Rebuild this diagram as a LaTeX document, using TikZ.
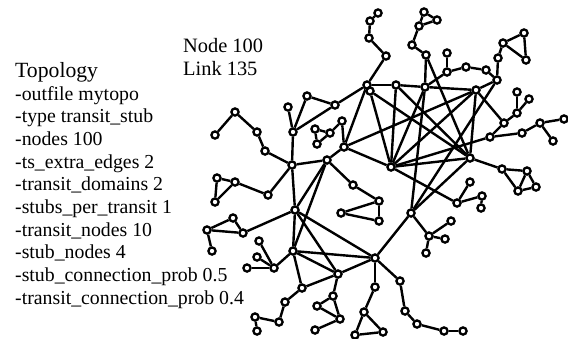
\documentclass[tikz,border=0pt]{standalone}
\usepackage{fontspec}
\setmainfont{Liberation Serif}
\begin{document}
\begin{tikzpicture}[x=1bp,y=-1bp,
  v/.style={circle,draw=black,fill=white,line width=2.3bp,inner sep=0pt,minimum size=7.2bp},
  e/.style={line width=2.4bp,black},
  lbl/.style={anchor=base west,inner sep=0pt,font=\fontsize{19.8bp}{22bp}\selectfont},
  big/.style={anchor=base west,inner sep=0pt,font=\fontsize{21.7bp}{24bp}\selectfont},
  cnt/.style={anchor=base west,inner sep=0pt,font=\fontsize{20.4bp}{24bp}\selectfont}]
\useasboundingbox (0,0) rectangle (568,338);

% ---------- generator parameters ----------
\node[big] (title) at (15,77) {Topology};
\foreach \t [count=\k from 0] in {-outfile mytopo,-type transit\_stub,-nodes 100,-ts\_extra\_edges 2,-transit\_domains 2,-stubs\_per\_transit 1,-transit\_nodes 10,-stub\_nodes 4,-stub\_connection\_prob 0.5,-transit\_connection\_prob 0.4}
  \node[lbl] (opt\k) at (15,100+22.7*\k) {\t};
\node[cnt] (nodecount) at (183,52) {Node 100};
\node[cnt] (linkcount) at (183,75) {Link 135};

% ---------- vertices ----------
\foreach \n/\x/\y in {
  a1/378/13, a2/370/21, a3/369/38, a4/386/56,
  b1/424/12, b2/437/20, b3/419/26, b4/412/45, X/426/55,
  c1/447/53, c2/447/72, c3/466/67, c4/486/70, Y/497/80,
  d1/498/58, d2/503/43, d3/524/33, d4/526/60,
  H1/367/85, H1b/370/91, T1/396/85, T2/425/87, T3/476/90,
  e1/517/92, e2/529/99, e3/517/113, e4/504/123,
  Z/490/137, f1/522/133, f2/540/123, f3/564/119, f4/553/141,
  T7/391/167, T8/470/158,
  g1/502/169, g2/527/171, g3/536/187, g4/518/191,
  h1/470/182, h2/457/203, h3/482/196, h4/481/208,
  W/411/213, i1/429/236, i2/451/221, i3/445/239, i4/426/253,
  Q3/375/258, j0/400/281, j1/405/311, j2/417/324, j3/444/331, j4/463/331,
  k1/375/287, k2/364/312, k3/383/332, k4/355/335,
  Q4/338/274, l1/333/296, l2/317/306, l3/340/319, l4/315/330,
  m0/302/288, m1/285/302, m2/279/322, m3/255/317, m4/257/331,
  Q2/293/251, n0/274/268, n1/259/241, n2/257/257, n3/247/268,
  Q1/295/210, o1/233/218, o2/207/230, o3/243/233, o4/212/251,
  p1/217/178, p2/235/182, p3/215/202, p4/268/195,
  P1/292/165, P2/327/160, U/344/147,
  q1/215/135, q2/235/112, q3/257/132, q4/265/151,
  r1/293/132, r2/288/107, r3/307/96, r4/335/105,
  s1/315/129, s2/317/144, s3/330/133, s4/342/121,
  t1/353/185, t2/379/201, t3/341/213, t4/379/221}
  \node[v] (\n) at (\x,\y) {};

% ---------- links ----------
\foreach \a/\b in {
  a1/a2, a2/a3, a3/a4, a4/H1,
  b1/b2, b2/b3, b1/b3, b3/b4, b4/X, X/T2, X/T8,
  c1/c2, c2/c3, c3/c4, c4/Y, c2/T2,
  Y/d1, d1/d2, d2/d3, d3/d4, d2/d4, Y/T3, Y/W,
  e1/e3, e2/e3, e3/e4, e4/T3, e4/Z,
  Z/f1, f1/f2, f2/f3, f2/f4,
  T8/g1, g1/g2, g1/g4, g2/g3, g2/g4, g3/g4,
  h1/h2, h2/h3, h3/h4, h2/T7,
  W/i1, i1/i2, i1/i3, i1/i4,
  W/T2, W/T8, W/Q3,
  Q3/j0, j0/j1, j1/j2, j2/j3, j3/j4,
  Q3/k1, k1/k2, k2/k3, k2/k4, k3/k4,
  Q4/l1, l1/l2, l1/l3, l2/l3, l3/l4,
  m0/Q2, m0/Q4, m0/m1, m1/m2, m2/m3, m3/m4,
  Q2/n0, n0/n1, n0/n2, n0/n3,
  Q1/o3, o1/o2, o1/o3, o2/o3, o2/o4,
  p1/p2, p1/p3, p2/p3, p2/p4, p4/P1,
  q1/q2, q2/q3, q3/q4, q4/P1,
  r1/r2, r1/r3, r3/r4, r1/r4, r4/H1, r1/P1,
  s1/s2, s1/s3, s2/s3, s3/s4, s4/U,
  P2/t1, t1/t2, t2/t3, t3/t4, t2/t4,
  P1/P2, P1/Q1, P2/Q1, P2/Q2, P2/U, Q1/Q2, Q1/Q3, Q1/Q4, Q2/Q3, Q2/Q4, Q3/Q4,
  U/H1, U/T3, U/T7,
  H1/T1, T1/T2, T2/T3, H1/H1b, T1/T7, T3/T8, T7/T8, H1b/T7, H1b/T8,
  T1/T8, T2/T7, T3/T7, T7/Z}
  \draw[e] (\a) -- (\b);
\end{tikzpicture}
\end{document}
